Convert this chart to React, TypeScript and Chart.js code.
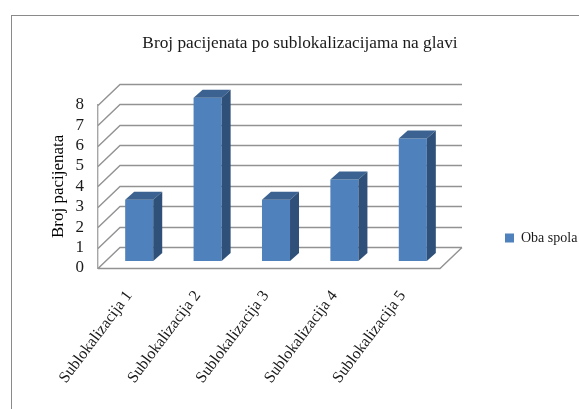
import React, { useEffect, useRef } from "react";
import { Chart, registerables } from "chart.js";

Chart.register(...registerables);

const categories = [
  "Sublokalizacija 1",
  "Sublokalizacija 2",
  "Sublokalizacija 3",
  "Sublokalizacija 4",
  "Sublokalizacija 5",
];
const patientCounts = [3, 8, 3, 4, 6];
const seriesName = "Oba spola";
const chartTitle = "Broj pacijenata po sublokalizacijama na glavi";
const yAxisTitle = "Broj pacijenata";

const SERIF = "'Liberation Serif', serif";
const GRID = "#929292";
const WALL = { dx: 22, dy: -21 };
const BAR_SHIFT = { dx: 7, dy: -7 };
const BAR_DEPTH = { dx: 9, dy: -8 };

// Perspective box: back wall, floor and the extruded faces of each column.
const box3d = {
  id: "box3d",
  beforeLayout(chart: any) {
    const legend = chart.legend;
    if (legend && !legend.__wide) {
      const fit = legend.fit;
      legend.fit = function () {
        fit.call(this);
        this.width = 139;
      };
      legend.__wide = true;
    }
  },
  afterLayout(chart: any) {
    // Legend sits low on the right; the title is centred a little off the canvas middle.
    chart.legend.left = 503;
    chart.legend.top = 229;
    chart.titleBlock.left += 21;
  },
  beforeDatasetsDraw(chart: any) {
    const { ctx, chartArea, scales } = chart;
    const y = scales.y;
    ctx.save();
    ctx.strokeStyle = GRID;
    ctx.lineWidth = 1.4;
    ctx.beginPath();
    y.ticks.forEach((t: any) => {
      const py = Math.round(y.getPixelForValue(t.value)) + 0.5;
      ctx.moveTo(chartArea.left, py);
      ctx.lineTo(chartArea.left + WALL.dx, py + WALL.dy);
      ctx.lineTo(chartArea.right + WALL.dx, py + WALL.dy);
    });
    const floor = Math.round(y.getPixelForValue(0)) + 0.5;
    ctx.moveTo(chartArea.left, floor);
    ctx.lineTo(chartArea.right, floor);
    ctx.lineTo(chartArea.right + WALL.dx, floor + WALL.dy);
    ctx.stroke();
    ctx.restore();
    ctx.save();
    ctx.translate(BAR_SHIFT.dx, BAR_SHIFT.dy);
  },
  afterDatasetsDraw(chart: any) {
    const { ctx } = chart;
    chart.getDatasetMeta(0).data.forEach((bar: any) => {
      const { x, y, base, width } = bar.getProps(["x", "y", "base", "width"], true);
      const l = x - width / 2;
      const r = x + width / 2;
      ctx.fillStyle = "#3b6290";
      ctx.beginPath();
      ctx.moveTo(l, y);
      ctx.lineTo(l + BAR_DEPTH.dx, y + BAR_DEPTH.dy);
      ctx.lineTo(r + BAR_DEPTH.dx, y + BAR_DEPTH.dy);
      ctx.lineTo(r, y);
      ctx.closePath();
      ctx.fill();
      ctx.fillStyle = "#2f5078";
      ctx.beginPath();
      ctx.moveTo(r, y);
      ctx.lineTo(r + BAR_DEPTH.dx, y + BAR_DEPTH.dy);
      ctx.lineTo(r + BAR_DEPTH.dx, base + BAR_DEPTH.dy);
      ctx.lineTo(r, base);
      ctx.closePath();
      ctx.fill();
    });
    ctx.restore();
  },
};

export default function App() {
  const ref = useRef<HTMLCanvasElement>(null);

  useEffect(() => {
    const chart = new Chart(ref.current!, {
      type: "bar",
      data: {
        labels: categories,
        datasets: [
          {
            label: seriesName,
            data: patientCounts,
            backgroundColor: "#4f81bd",
            barPercentage: 0.41,
            categoryPercentage: 1,
            clip: false,
          },
        ],
      },
      plugins: [box3d],
      options: {
        animation: false,
        responsive: false,
        layout: { padding: 0 },
        scales: {
          x: {
            grid: { display: false },
            border: { display: false },
            ticks: {
              color: "#1a1a1a",
              font: { family: SERIF, size: 16 },
              minRotation: 53,
              maxRotation: 53,
              padding: 11,
              labelOffset: -3,
              autoSkip: false,
            },
            afterFit: (s: any) => {
              s.height = 141;
            },
          },
          y: {
            min: 0,
            max: 8,
            grid: { display: false },
            border: { display: true, color: "#a6a6a6", width: 1.4 },
            ticks: {
              stepSize: 1,
              autoSkip: false,
              color: "#1a1a1a",
              font: { family: SERIF, size: 17 },
              padding: 6,
            },
            title: {
              display: true,
              text: yAxisTitle,
              color: "#000000",
              font: { family: SERIF, size: 17 },
              padding: { top: 48, bottom: 0 },
            },
            afterFit: (s: any) => {
              s.width = 98;
            },
          },
        },
        plugins: {
          title: {
            display: true,
            text: chartTitle,
            color: "#1a1a1a",
            font: { family: SERIF, size: 17.3, weight: "normal" },
            padding: { top: 33, bottom: 51 },
          },
          legend: {
            position: "right",
            align: "start",
            labels: {
              boxWidth: 9,
              boxHeight: 9,
              padding: 2,
              color: "#1a1a1a",
              font: { family: SERIF, size: 14 },
            },
          },
          tooltip: { enabled: false },
        },
      },
    } as any);
    return () => chart.destroy();
  }, []);

  return (
    <div style={{ position: "absolute", left: 0, top: 0, width: 579, height: 409, overflow: "hidden", background: "#fff" }}>
      <canvas ref={ref} width={579} height={409} style={{ display: "block" }} />
      <div
        style={{
          position: "absolute",
          left: 11,
          top: 15,
          right: 0,
          bottom: 0,
          borderLeft: "1px solid #8a8a8a",
          borderTop: "1px solid #8a8a8a",
        }}
      />
    </div>
  );
}
